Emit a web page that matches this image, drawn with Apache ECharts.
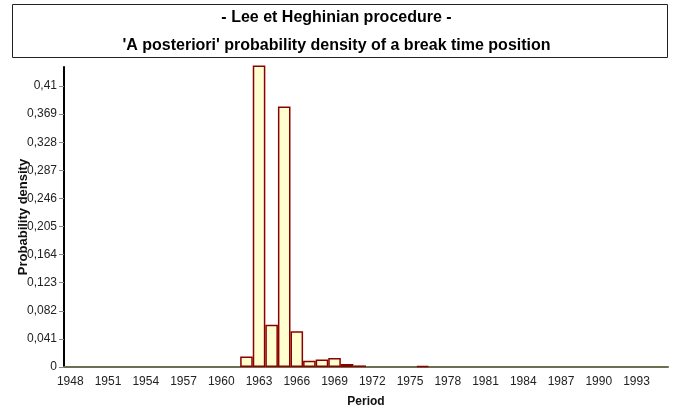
<!DOCTYPE html>
<html>
<head>
<meta charset="utf-8">
<script src="https://cdn.jsdelivr.net/npm/echarts@6/dist/echarts.min.js"></script>
<style>
  html, body { margin: 0; padding: 0; background: #fff; }
  #chart { width: 673px; height: 412px; }
</style>
</head>
<body>
<div id="chart"></div>
<script>
// periods 1948 .. 1995
var years = []
for (var y = 1948; y <= 1995; y++) years.push(String(y))

// probability density (non-zero years only)
var densityByYear = {
  1962: 0.0155,
  1963: 0.440,
  1964: 0.0617,
  1965: 0.380,
  1966: 0.052,
  1967: 0.0092,
  1968: 0.011,
  1969: 0.013,
  1970: 0.0044,
  1971: 0.0023,
  1976: 0.0015
}
var density = years.map(function (yr) {
  return densityByYear[yr] || 0
})

var yTicks = [0, 0.041, 0.082, 0.123, 0.164, 0.205, 0.246, 0.287, 0.328, 0.369, 0.41]

var titleLines = ['- Lee et Heghinian procedure -', "'A posteriori' probability density of a break time position"]

var chart = echarts.init(document.getElementById('chart'))
chart.setOption({
  animation: false,
  textStyle: { fontFamily: 'Liberation Sans, Arial, sans-serif' },
  title: titleLines.map(function (t, i) {
    return {
      text: t,
      left: 'center',
      top: 10 + i * 28,
      padding: 0,
      textStyle: { fontSize: 16, fontWeight: 'bold', color: '#000' }
    }
  }),
  graphic: [{
    type: 'rect',
    shape: { x: 12.5, y: 4.5, width: 655, height: 53 },
    style: { fill: 'none', stroke: '#222', lineWidth: 1 },
    z: 0
  }],
  grid: { left: 64, right: 5, top: 67, bottom: 45, outerBoundsMode: 'none' },
  xAxis: {
    type: 'category',
    data: years,
    boundaryGap: true,
    name: 'Period',
    nameLocation: 'middle',
    nameGap: 29,
    nameMoveOverlap: false,
    nameTextStyle: { fontSize: 12, fontWeight: 'bold', color: '#111' },
    axisLine: { lineStyle: { color: '#6e6e50', width: 2 } },
    axisTick: { interval: 2, alignWithLabel: true, length: 6, lineStyle: { color: '#999' } },
    axisLabel: { interval: 2, fontSize: 12, color: '#222', margin: 9 },
    splitLine: { show: false }
  },
  yAxis: {
    type: 'value',
    min: 0,
    max: 0.4377,
    name: 'Probability density',
    nameLocation: 'middle',
    nameGap: 34,
    nameMoveOverlap: false,
    nameTextStyle: { fontSize: 13, fontWeight: 'bold', color: '#111' },
    axisLine: { show: true, lineStyle: { color: '#000', width: 2 } },
    axisTick: { show: true, length: 5, lineStyle: { color: '#888' }, customValues: yTicks },
    axisLabel: {
      fontSize: 12,
      color: '#222',
      margin: 7,
      customValues: yTicks,
      formatter: function (v) {
        return String(+v.toFixed(3)).replace('.', ',')
      }
    },
    splitLine: { show: false }
  },
  series: [{
    type: 'bar',
    // empty years draw nothing (avoids a red border line along the axis)
    data: density.map(function (v) { return v > 0 ? v : '-' }),
    barWidth: '100%',
    barCategoryGap: 0,
    clip: false,
    itemStyle: {
      color: '#ffffd0',
      borderColor: '#8b0000',
      borderWidth: 1.5
    }
  }]
})
</script>
</body>
</html>
